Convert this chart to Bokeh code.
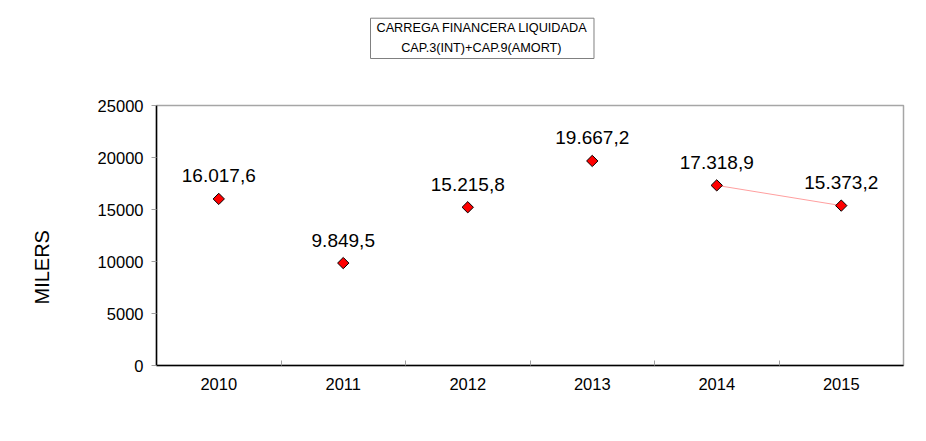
import numpy as np
from bokeh.plotting import figure
from bokeh.models import Range1d, FixedTicker, Title, ColumnDataSource
from bokeh.core.properties import value
from bokeh.embed import file_html
from bokeh.resources import INLINE

years = ["2010", "2011", "2012", "2013", "2014", "2015"]
values = [16017.6, 9849.5, 15215.8, 19667.2, 17318.9, 15373.2]
y_ticks = [0, 5000, 10000, 15000, 20000, 25000]
title_lines = ["CARREGA FINANCERA LIQUIDADA", "CAP.3(INT)+CAP.9(AMORT)"]
y_label = "MILERS"

def fmt(v):
    s = f"{v:,.1f}"
    return s.replace(",", "X").replace(".", ",").replace("X", ".")

FONT = "Liberation Sans"

xs = np.arange(len(years)) + 0.5
src = ColumnDataSource(dict(x=xs, y=values, lbl=[fmt(v) for v in values]))

p = figure(width=910, height=425, output_backend="svg", toolbar_location=None,
           x_range=Range1d(0, len(years)), y_range=Range1d(0, 25000),
           min_border_left=156, min_border_right=7, min_border_top=105, min_border_bottom=60)
p.xgrid.visible = False
p.ygrid.visible = False
p.outline_line_color = "#a6a6a6"
p.outline_line_width = 1.5
p.background_fill_color = "white"
p.border_fill_color = "white"

# x axis
p.xaxis.ticker = FixedTicker(ticks=list(xs), minor_ticks=list(np.arange(1, len(years))))
p.xaxis.major_label_overrides = {float(x): y for x, y in zip(xs, years)}
p.xaxis.major_tick_in = 0
p.xaxis.major_tick_out = 0
p.xaxis.minor_tick_in = 5
p.xaxis.minor_tick_out = 0
p.xaxis.minor_tick_line_color = "#a0a0a0"
p.xaxis.axis_line_color = "black"
p.xaxis.axis_line_width = 1.5
p.xaxis.major_label_standoff = 12
p.xaxis.major_label_text_font = FONT
p.xaxis.major_label_text_font_size = "16.5px"
p.xaxis.major_label_text_color = "black"

# y axis
p.yaxis.ticker = FixedTicker(ticks=y_ticks)
p.yaxis.major_tick_in = 0
p.yaxis.major_tick_out = 5
p.yaxis.minor_tick_line_color = None
p.yaxis.major_tick_line_color = "#a0a0a0"
p.yaxis.axis_line_color = "black"
p.yaxis.axis_line_width = 1.5
p.yaxis.major_label_standoff = 8
p.yaxis.major_label_text_font = FONT
p.yaxis.major_label_text_font_size = "16.5px"
p.yaxis.major_label_text_color = "black"

# line between last two points
p.line(xs[4:], values[4:], line_color="#ff9f9f", line_width=1)

p.scatter("x", "y", source=src, marker="square", angle=np.pi / 4, size=8,
          fill_color="#ff0000", line_color="black", line_width=1)

p.text("x", "y", text="lbl", source=src, text_align="center", text_baseline="middle",
       y_offset=-23, text_font=value(FONT), text_font_size="19px", text_color="black")

# spacers (blank panels) to position the title box and the y label
top_spacer = Title(text=" ", text_font_size="1px", standoff=44)
p.add_layout(top_spacer, "above")
title = Title(text=title_lines[0] + "\n" + "\u00a0" * 7 + title_lines[1],
              align="left", offset=214, vertical_align="bottom",
              standoff=0, text_font=FONT, text_font_size="12.7px",
              text_font_style="normal", text_color="black", text_line_height=1.45,
              border_line_color="#808080", border_line_width=1,
              background_fill_color="white",
              padding=dict(left=6, right=6, top=3, bottom=3))
p.add_layout(title, "above")

left_spacer = Title(text=" ", text_font_size="1px", standoff=38)
p.add_layout(left_spacer, "left")
ylab = Title(text=y_label, align="left", offset=61, vertical_align="middle",
             standoff=0, text_font=FONT, text_font_size="20px",
             text_font_style="normal", text_color="black")
p.add_layout(ylab, "left")

open("out.html", "w").write(file_html(p, INLINE))
